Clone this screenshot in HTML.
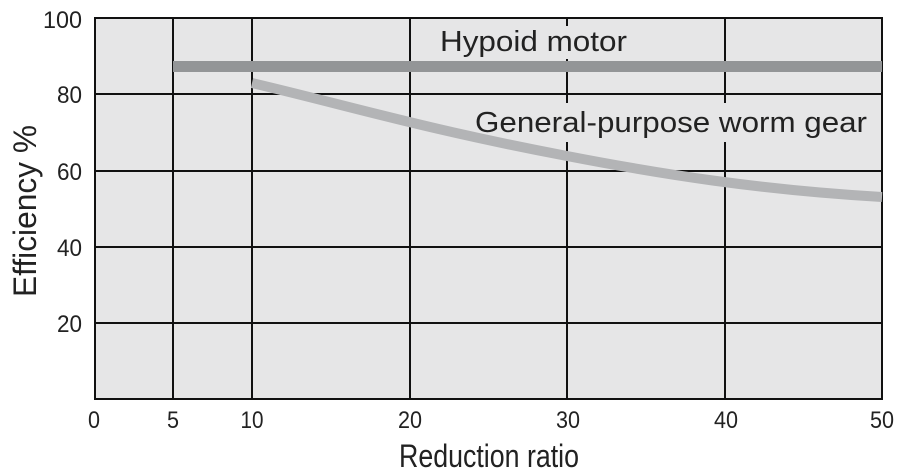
<!DOCTYPE html>
<html><head><style>body{margin:0;background:#fff;}svg{display:block;}</style></head>
<body>
<svg width="910" height="474" xmlns="http://www.w3.org/2000/svg" font-family="Liberation Sans, sans-serif">
<rect x="95" y="18" width="787" height="381" fill="#e6e6e7"/>
<g stroke="#111" stroke-width="2">
<line x1="173" y1="18" x2="173" y2="399"/>
<line x1="252" y1="18" x2="252" y2="399"/>
<line x1="410" y1="18" x2="410" y2="399"/>
<line x1="567" y1="18" x2="567" y2="399"/>
<line x1="725" y1="18" x2="725" y2="399"/>
<line x1="95" y1="94" x2="882" y2="94"/>
<line x1="95" y1="171" x2="882" y2="171"/>
<line x1="95" y1="247" x2="882" y2="247"/>
<line x1="95" y1="323" x2="882" y2="323"/>
</g>
<rect x="95" y="18" width="787" height="381" fill="none" stroke="#111" stroke-width="2"/>
<rect x="436" y="26" width="196" height="33" fill="#e6e6e7"/>
<rect x="471" y="103" width="400" height="39" fill="#e6e6e7"/>
<line x1="173" y1="66.5" x2="882" y2="66.5" stroke="#939597" stroke-width="11"/>
<path d="M252,83 C350,106 420,128 567,156 C660,174 760,190 882,197" fill="none" stroke="#b3b4b6" stroke-width="10"/>
<g font-size="29" fill="#222">
<text x="440" y="51" textLength="187" lengthAdjust="spacingAndGlyphs">Hypoid motor</text>
<text x="475" y="132" textLength="392" lengthAdjust="spacingAndGlyphs">General-purpose worm gear</text>
</g>
<g font-size="24" fill="#222" text-anchor="end">
<text x="82" y="28" textLength="39" lengthAdjust="spacingAndGlyphs">100</text>
<text x="82" y="103" textLength="25" lengthAdjust="spacingAndGlyphs">80</text>
<text x="82" y="180" textLength="25" lengthAdjust="spacingAndGlyphs">60</text>
<text x="82" y="256" textLength="25" lengthAdjust="spacingAndGlyphs">40</text>
<text x="82" y="332" textLength="25" lengthAdjust="spacingAndGlyphs">20</text>
</g>
<g font-size="24" fill="#222" text-anchor="middle">
<text x="94" y="428" textLength="12" lengthAdjust="spacingAndGlyphs">0</text>
<text x="173" y="428" textLength="12" lengthAdjust="spacingAndGlyphs">5</text>
<text x="252" y="428" textLength="23" lengthAdjust="spacingAndGlyphs">10</text>
<text x="410" y="428" textLength="24" lengthAdjust="spacingAndGlyphs">20</text>
<text x="568" y="428" textLength="24" lengthAdjust="spacingAndGlyphs">30</text>
<text x="726" y="428" textLength="24" lengthAdjust="spacingAndGlyphs">40</text>
<text x="882" y="428" textLength="24" lengthAdjust="spacingAndGlyphs">50</text>
</g>
<text x="489" y="467" font-size="32" fill="#222" text-anchor="middle" textLength="180" lengthAdjust="spacingAndGlyphs">Reduction ratio</text>
<text transform="translate(36,211) rotate(-90)" font-size="32" fill="#222" text-anchor="middle" textLength="172" lengthAdjust="spacingAndGlyphs">Efficiency %</text>
</svg>
</body></html>
